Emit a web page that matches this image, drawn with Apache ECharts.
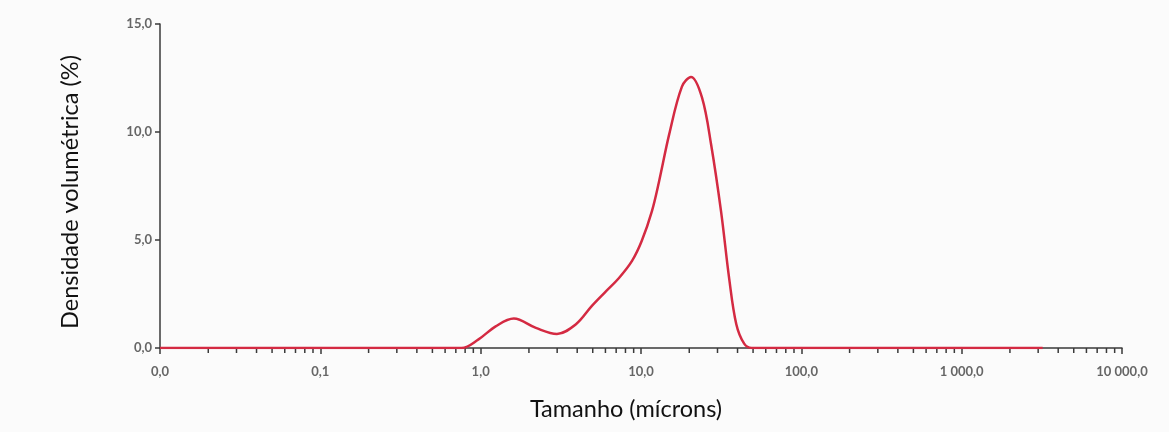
<!DOCTYPE html>
<html><head><meta charset="utf-8">
<script src="https://cdn.jsdelivr.net/npm/echarts@6/dist/echarts.min.js"></script>
<style>html,body{margin:0;padding:0;background:#fbfbfb}#c{width:1169px;height:432px}</style>
</head><body><div id="c"></div>
<script>
// Particle size (microns) and volume density (%)
const sizes  = [0.01, 0.1, 0.5, 0.76, 0.97, 1.24, 1.61, 2.21, 2.99, 3.93, 4.94, 6.0, 7.29, 8.79, 10.1, 11.7, 12.95, 15.0, 18.0, 20.5, 24, 27.4, 31.6, 35.5, 39.3, 44, 49, 100, 1000, 3200];
const density = [0, 0, 0, 0, 0.4, 1.0, 1.36, 0.93, 0.65, 1.1, 1.95, 2.6, 3.24, 4.03, 4.95, 6.34, 7.7, 9.9, 12.1, 12.55, 11.6, 9.4, 6.3, 3.2, 1.1, 0.2, 0, 0, 0, 0];
const xTickLabels = ['0,0', '0,1', '1,0', '10,0', '100,0', '1 000,0', '10 000,0'];
const yTickLabels = ['0,0', '5,0', '10,0', '15,0'];
const minorTicks = [];
[0.01, 0.1, 1, 10, 100, 1000].forEach(d => { for (let k = 2; k <= 9; k++) minorTicks.push(+(d * k).toPrecision(3)); });

const chart = echarts.init(document.getElementById('c'));
const axisColor = '#3a3a3a';
chart.setOption({
  backgroundColor: '#fbfbfb',
  animation: false,
  grid: { left: 160, right: 47, top: 24, bottom: 84 },
  xAxis: {
    type: 'log', logBase: 10, min: 0.01, max: 10000, splitNumber: 6,
    name: 'Tamanho (mícrons)', nameLocation: 'middle', nameGap: 49,
    nameTextStyle: { fontFamily: 'Lato', fontSize: 23.5, color: '#111', padding: [0, 30, 0, 0] },
    axisLine: { lineStyle: { color: axisColor, width: 1.5 } },
    axisTick: { length: 6, lineStyle: { color: axisColor, width: 1.5 } },
    splitLine: { show: false },
    axisLabel: { fontFamily: 'Lato', fontSize: 13, fontWeight: 'bold', color: '#666', margin: 17,
      formatter: (v, i) => xTickLabels[i] }
  },
  yAxis: {
    type: 'value', min: 0, max: 15, interval: 5,
    name: 'Densidade volumétrica (%)', nameLocation: 'middle', nameGap: 78,
    nameTextStyle: { fontFamily: 'Lato', fontSize: 23.5, color: '#111', padding: [0, 12, 0, 0] },
    axisLine: { show: true, lineStyle: { color: axisColor, width: 1.5 } },
    axisTick: { show: true, length: 5, lineStyle: { color: axisColor, width: 1.5 } },
    splitLine: { show: false },
    axisLabel: { fontFamily: 'Lato', fontSize: 13, fontWeight: 'bold', color: '#666', margin: 8,
      formatter: (v) => yTickLabels[Math.round(v / 5)] }
  },
  series: [
    {
      type: 'line', data: sizes.map((s, i) => [s, density[i]]),
      smooth: 0.35, showSymbol: false,
      lineStyle: { color: '#d42a42', width: 2.5 }, z: 3
    },
    {
      type: 'custom', silent: true, clip: false, z: 2,
      data: minorTicks.map(v => [v, 0]),
      renderItem: (params, api) => {
        const p = api.coord([api.value(0), 0]);
        return { type: 'line', shape: { x1: p[0], y1: p[1], x2: p[0], y2: p[1] + 5 },
          style: { stroke: axisColor, lineWidth: 1.5 } };
      }
    }
  ]
});
</script></body></html>
